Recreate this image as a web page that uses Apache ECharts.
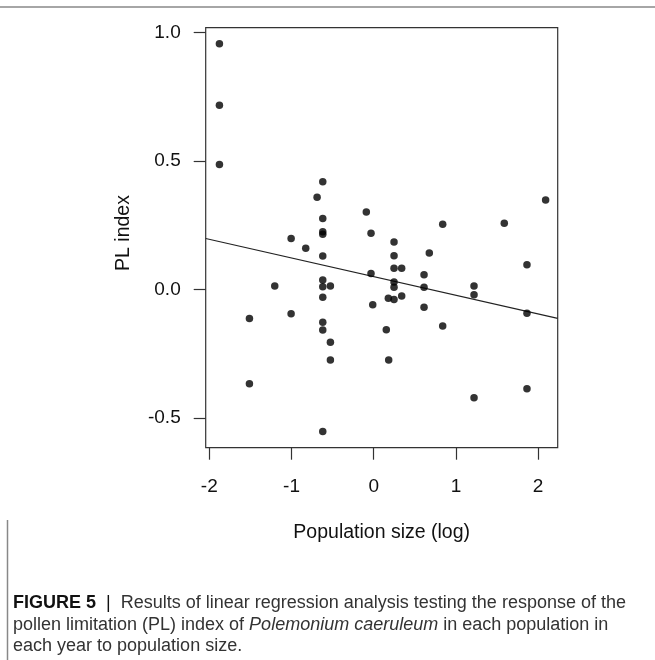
<!DOCTYPE html>
<html>
<head>
<meta charset="utf-8">
<style>
  html, body { margin: 0; padding: 0; background: #fff; }
  #chart { width: 655px; height: 660px; }
</style>
<script src="https://cdn.jsdelivr.net/npm/echarts@6/dist/echarts.min.js"></script>
</head>
<body>
<div id="chart"></div>
<script>
// Data
const popSizeLog = [
  -1.877, -1.877, -1.877, -0.620, -0.689, 2.091, -0.090, -0.620, 1.588, 0.839,
  -0.620, -0.620, -0.033, -1.005, 0.247, -0.827, 0.676, -0.620, 0.247, 1.864,
  0.247, 0.340, -0.033, 0.612, -0.620, 0.247, -0.620, -0.527, -1.204, 0.247,
  0.612, 1.220, 1.220, -0.620, 0.340, 0.178, 0.247, -0.012, 0.612, 1.864,
  -1.005, -1.512, -0.620, 0.839, 0.153, -0.620, -0.527, -0.527, 0.182, -1.512,
  1.864, 1.220, -0.620
];
const plIndex = [
  0.956, 0.716, 0.486, 0.419, 0.358, 0.348, 0.301, 0.276, 0.257, 0.253,
  0.224, 0.214, 0.218, 0.198, 0.184, 0.160, 0.141, 0.130, 0.131, 0.096,
  0.082, 0.082, 0.062, 0.057, 0.036, 0.029, 0.010, 0.013, 0.013, 0.008,
  0.008, 0.013, -0.021, -0.031, -0.026, -0.035, -0.039, -0.060, -0.070, -0.093,
  -0.095, -0.113, -0.128, -0.143, -0.157, -0.158, -0.206, -0.275, -0.275, -0.367,
  -0.387, -0.422, -0.553
];
const regIntercept = 0.0496;
const regSlope = -0.0726;
const xTicks = [-2, -1, 0, 1, 2];
const yTicks = [-0.5, 0, 0.5, 1];
const xRange = [-2.044, 2.238];
const yRange = [-0.616, 1.018];

const points = popSizeLog.map((x, i) => [x, plIndex[i]]);
const regLine = xRange.map(x => [x, regIntercept + regSlope * x]);

const FONT = "'Liberation Sans', Arial, sans-serif";

const chart = echarts.init(document.getElementById('chart'), null, { renderer: 'canvas' });
chart.setOption({
  animation: false,
  backgroundColor: '#fff',
  grid: {
    left: 205.7, right: 97.3, top: 27.7, bottom: 212.3,
    show: true, borderColor: '#333', borderWidth: 1.2, backgroundColor: 'transparent'
  },
  xAxis: {
    type: 'value', min: xRange[0], max: xRange[1],
    axisLine: { show: false, onZero: false },
    splitLine: { show: false },
    axisTick: { show: true, inside: false, length: 12, customValues: xTicks, lineStyle: { color: '#333', width: 1.2 } },
    axisLabel: { customValues: xTicks, margin: 30, fontSize: 19, color: '#111', fontFamily: FONT,
      formatter: v => String(v) }
  },
  yAxis: {
    type: 'value', min: yRange[0], max: yRange[1],
    axisLine: { show: false, onZero: false },
    splitLine: { show: false },
    axisTick: { show: true, inside: false, length: 12, customValues: yTicks, lineStyle: { color: '#333', width: 1.2 } },
    axisLabel: { customValues: yTicks, margin: 25, fontSize: 19, color: '#111', fontFamily: FONT,
      formatter: v => v.toFixed(1) }
  },
  series: [
    {
      type: 'line', data: regLine, symbol: 'none', silent: true,
      lineStyle: { color: '#222', width: 1.1 }, z: 2
    },
    {
      type: 'scatter', data: points, symbol: 'circle', symbolSize: 7.5,
      itemStyle: { color: '#000' }, z: 3
    }
  ],
  graphic: [
    { type: 'line', shape: { x1: 0, y1: 7, x2: 655, y2: 7 }, style: { stroke: '#888', lineWidth: 1.5 } },
    { type: 'line', shape: { x1: 7.5, y1: 520, x2: 7.5, y2: 660 }, style: { stroke: '#888', lineWidth: 1.5 } },
    { type: 'text', x: 381.7, y: 533, style: { text: 'Population size (log)', font: "19.5px " + FONT, fill: '#111', align: 'center', verticalAlign: 'middle' } },
    { type: 'text', x: 124, y: 233, rotation: Math.PI / 2, style: { text: 'PL index', font: "19.5px " + FONT, fill: '#111', align: 'center', verticalAlign: 'middle' } },
    { type: 'text', x: 13, y: 603, style: {
        text: '{b|FIGURE 5}{s|  |  }{n|Results of linear regression analysis testing the response of the}',
        verticalAlign: 'middle',
        rich: {
          b: { font: "bold 18px " + FONT, fill: '#111' },
          s: { font: "18px " + FONT, fill: '#111' },
          n: { font: "18px " + FONT, fill: '#333' }
        } } },
    { type: 'text', x: 13, y: 625, style: {
        text: '{n|pollen limitation (PL) index of }{i|Polemonium caeruleum}{n| in each population in}',
        verticalAlign: 'middle',
        rich: {
          n: { font: "18px " + FONT, fill: '#333' },
          i: { font: "italic 18px " + FONT, fill: '#333' }
        } } },
    { type: 'text', x: 13, y: 646, style: {
        text: 'each year to population size.', font: "18px " + FONT, fill: '#333', verticalAlign: 'middle' } }
  ]
});
</script>
</body>
</html>
